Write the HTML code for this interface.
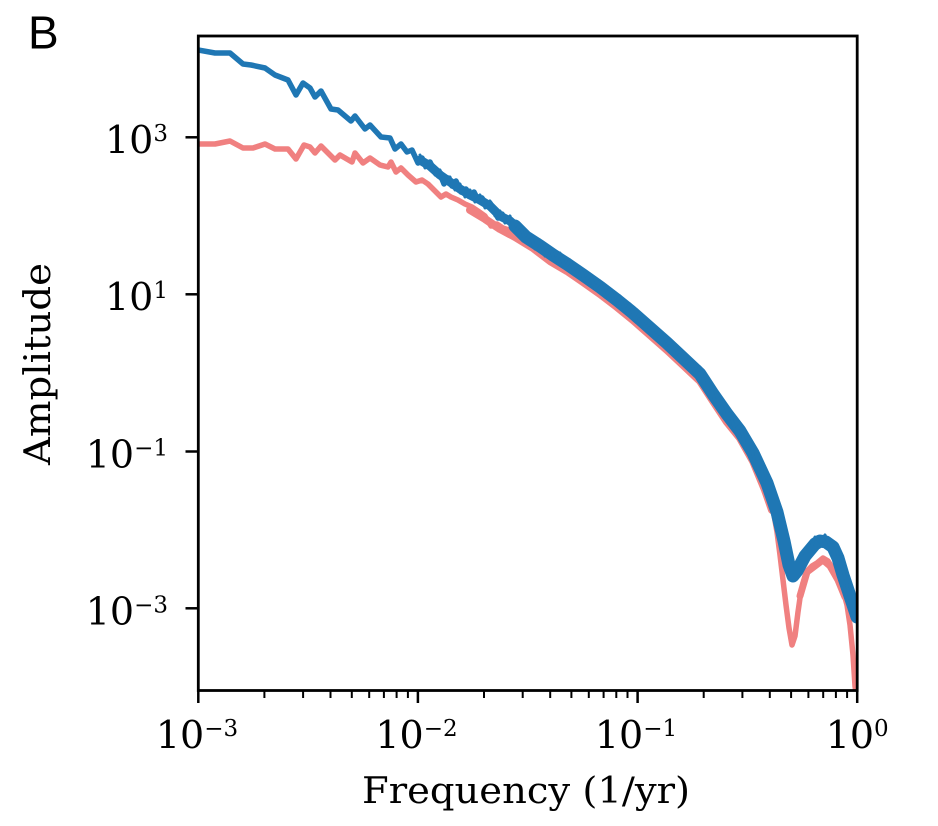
<!DOCTYPE html>
<html>
<head>
<meta charset="utf-8">
<style>
  html, body { margin:0; padding:0; background:#ffffff; }
  svg { display:block; }
</style>
</head>
<body>
<svg width="938" height="826" viewBox="0 0 938 826" xmlns="http://www.w3.org/2000/svg">
  <rect x="0" y="0" width="938" height="826" fill="#ffffff"/>
  <defs>
    <clipPath id="pc">
      <rect x="198.3" y="36" width="658.9" height="654.5"/>
    </clipPath>
  </defs>

  <g clip-path="url(#pc)" fill="none" stroke-linejoin="round" stroke-linecap="round">
    <!-- red series -->
    <polyline stroke="#f08080" stroke-width="5.5" points="198,144 215,144 230,141 243,148 253,148 265,144 275,149 288,149 296,159 304,145 310,147 315,153 321,146 335,160 340,155 352,162 355,153 363,163 370,158 380,165 388,167 391,162 396,172 401,168 408,175 416,182 422,180 428,184 434,190 441,197 446,194 451,197 458,200 465,204 472,207 478,211 485,216 491,226 497,224 503,228 509,230 515,233 521,238 528,243 535,247 542,251 550,257 558,261 567,267 575,272 583,278 591,284 600,290 608,296 617,303 625,309 633,316 642,323 650,331 658,338 667,346 675,353 683,361 692,368 700,377 706,386 713,397 720,407 727,418 733,426 740,434 747,444 753,457 760,472 765,486 770,500 774,515 777,532 780,555 783,580 786,605 789,628 792,645 795,636 798,612 800,598 803,583 807,571 812,566 817,563 823,558 828,561 833,569 838,578 843,590 847,605 850,625 853,655 855,686 857,700"/>
    <polyline stroke="#f08080" stroke-width="8" points="470,210 485,219 500,229 515,237 533,248 550,261 567,271 583,282 600,294 617,307 633,320 650,335 667,350 683,365 700,381 713,401 727,422 740,438 753,461 765,490 772,510"/>
    <polyline stroke="#f08080" stroke-width="7" points="800,596 807,572 815,566 823,560 830,566 838,580 845,597"/>

    <!-- blue series -->
    <polyline stroke="#1f77b4" stroke-width="5.5" points="198,50 215,53 230,53 243,64 251,65 265,68 275,75 288,80 296,95 303,83 310,88 315,97 321,91 331,109 338,110 351,121 355,116 365,129 370,125 381,137 390,138 395,149 401,144 407,152 412,150 418,163 422,158 426,166 430,162 435,172 440,174 444,184 448,178 452,186 456,181 461,192 466,189 470,196 474,192 478,200 482,198 486,204 490,203 494,210 498,218 502,214 506,220 510,219 515,226 520,230 526,238 533,242 540,246 546,251 553,256 560,259 567,264 575,269 583,275 591,281 600,287 608,293 617,300 625,306 633,313 642,320 650,328 658,335 667,343 675,350 683,358 692,365 700,373 706,383 713,394 720,404 727,414 733,423 740,431 747,441 753,453 760,467 767,483 773,500 777,513 780,526 784,543 787,556 790,570 793,577 797,571 800,564 805,555 810,548 815,543 820,540 826,542 833,547 838,558 843,576 848,590 853,606 857,618"/>
    <polyline stroke="#1f77b4" stroke-width="9" points="420,160 430,166 440,175 450,182 460,189 470,195 480,200 490,206 500,216 510,221 520,230"/>
    <polyline stroke="#1f77b4" stroke-width="13" points="515,226 526,237 540,246 553,255 567,264 583,275 600,287 617,300 633,313 650,328 667,343 683,358 700,374 713,394 727,414 740,431 753,453 767,483 777,512 784,541 789,565 793,576 797,571 805,556 815,544 820,541 826,542 833,547 838,558 843,575 848,590 853,605 857,617"/>
    <!-- noise zigzag inside band -->
    <polyline stroke="#1f77b4" stroke-width="3" points="420,155 425,168 430,161 435,175 440,170 445,183 450,177 455,190 460,184 465,197 470,190 475,202 480,195 485,208 490,201 495,216 500,211 505,223 510,216 515,232 520,224 525,241 530,234 535,249 540,240 545,256 550,247 555,262 560,253 565,268 570,260 575,275 580,267 585,282 590,274 595,289 600,281 605,297 610,289 615,304 620,296 625,312 630,304 635,320 640,313 645,329 650,322 655,338 660,331 665,347 670,340 675,356 680,349 685,365 690,358 695,374 700,367 705,387 710,383 715,402 720,398 725,417 730,413 735,431 740,425 745,445 750,441 755,463 760,461 765,485 770,485"/>
    <polyline stroke="#1f77b4" stroke-width="3" points="800,558 805,549 810,550 815,537 820,542 825,535 830,546 835,544 840,562 845,576 850,600"/>
  </g>

  <!-- axes box -->
  <rect x="198.3" y="36" width="658.9" height="654.5" fill="none" stroke="#000000" stroke-width="2.8"/>

  <!-- x ticks -->
  <g stroke="#000000" stroke-width="2.5">
    <line x1="198.3" y1="690.5" x2="198.3" y2="703"/>
    <line x1="417.9" y1="690.5" x2="417.9" y2="703"/>
    <line x1="637.6" y1="690.5" x2="637.6" y2="703"/>
    <line x1="857.2" y1="690.5" x2="857.2" y2="703"/>
  </g>
  <g stroke="#000000" stroke-width="2">
    <line x1="264.4" y1="690.5" x2="264.4" y2="698"/>
    <line x1="303.1" y1="690.5" x2="303.1" y2="698"/>
    <line x1="330.5" y1="690.5" x2="330.5" y2="698"/>
    <line x1="351.8" y1="690.5" x2="351.8" y2="698"/>
    <line x1="369.2" y1="690.5" x2="369.2" y2="698"/>
    <line x1="383.9" y1="690.5" x2="383.9" y2="698"/>
    <line x1="396.6" y1="690.5" x2="396.6" y2="698"/>
    <line x1="407.9" y1="690.5" x2="407.9" y2="698"/>
    <line x1="484.0" y1="690.5" x2="484.0" y2="698"/>
    <line x1="522.7" y1="690.5" x2="522.7" y2="698"/>
    <line x1="550.2" y1="690.5" x2="550.2" y2="698"/>
    <line x1="571.4" y1="690.5" x2="571.4" y2="698"/>
    <line x1="588.8" y1="690.5" x2="588.8" y2="698"/>
    <line x1="603.6" y1="690.5" x2="603.6" y2="698"/>
    <line x1="616.3" y1="690.5" x2="616.3" y2="698"/>
    <line x1="627.5" y1="690.5" x2="627.5" y2="698"/>
    <line x1="703.7" y1="690.5" x2="703.7" y2="698"/>
    <line x1="742.4" y1="690.5" x2="742.4" y2="698"/>
    <line x1="769.8" y1="690.5" x2="769.8" y2="698"/>
    <line x1="791.1" y1="690.5" x2="791.1" y2="698"/>
    <line x1="808.4" y1="690.5" x2="808.4" y2="698"/>
    <line x1="823.2" y1="690.5" x2="823.2" y2="698"/>
    <line x1="835.9" y1="690.5" x2="835.9" y2="698"/>
    <line x1="847.1" y1="690.5" x2="847.1" y2="698"/>
  </g>

  <!-- y ticks -->
  <g stroke="#000000" stroke-width="2.5">
    <line x1="185.5" y1="137.3" x2="198.3" y2="137.3"/>
    <line x1="185.5" y1="294.3" x2="198.3" y2="294.3"/>
    <line x1="185.5" y1="451.5" x2="198.3" y2="451.5"/>
    <line x1="185.5" y1="608.3" x2="198.3" y2="608.3"/>
  </g>

  <!-- x tick labels -->
  <g font-family="'DejaVu Serif', 'Liberation Serif', serif" fill="#000000" font-size="38">
    <text x="197" y="748" text-anchor="middle">10<tspan font-size="23" dy="-12">−3</tspan></text>
    <text x="416.5" y="748" text-anchor="middle">10<tspan font-size="23" dy="-12">−2</tspan></text>
    <text x="636" y="748" text-anchor="middle">10<tspan font-size="23" dy="-12">−1</tspan></text>
    <text x="857.2" y="748" text-anchor="middle">10<tspan font-size="23" dy="-12">0</tspan></text>
  </g>

  <!-- y tick labels -->
  <g font-family="'DejaVu Serif', 'Liberation Serif', serif" fill="#000000" font-size="38" text-anchor="end">
    <text x="168" y="153">10<tspan font-size="23" dy="-12">3</tspan></text>
    <text x="168" y="310">10<tspan font-size="23" dy="-12">1</tspan></text>
    <text x="168" y="467.5">10<tspan font-size="23" dy="-12">−1</tspan></text>
    <text x="168" y="624.3">10<tspan font-size="23" dy="-12">−3</tspan></text>
  </g>

  <!-- axis labels -->
  <text x="526" y="803" text-anchor="middle" font-family="'DejaVu Serif', 'Liberation Serif', serif" font-size="36" fill="#000000" textLength="328" lengthAdjust="spacingAndGlyphs">Frequency (1/yr)</text>
  <text transform="translate(50,364) rotate(-90)" x="0" y="0" text-anchor="middle" font-family="'DejaVu Serif', 'Liberation Serif', serif" font-size="36" fill="#000000" textLength="202" lengthAdjust="spacingAndGlyphs">Amplitude</text>

  <!-- panel label -->
  <text x="28" y="48.3" font-family="'Liberation Sans', 'DejaVu Sans', sans-serif" font-size="46" fill="#000000">B</text>
</svg>
</body>
</html>
